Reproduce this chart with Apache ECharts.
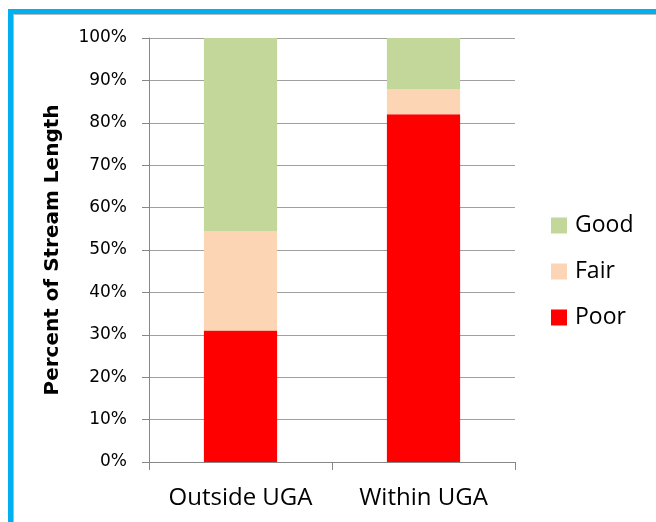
<!DOCTYPE html>
<html>
<head>
<meta charset="utf-8">
<script src="https://cdn.jsdelivr.net/npm/echarts@6/dist/echarts.min.js"></script>
<style>
  html, body { margin: 0; padding: 0; background: #fff; }
  #wrap { position: relative; width: 656px; height: 522px; overflow: hidden; }
  #frame {
    position: absolute; left: 8px; top: 9px; width: 720px; height: 600px;
    border-top: 5px solid #00b0f0; border-left: 5px solid #00b0f0;
    box-shadow: inset 1px 1px 0 #b8b8b8;
  }
  #chart { position: absolute; left: 0; top: 0; width: 656px; height: 522px; }
</style>
</head>
<body>
<div id="wrap">
  <div id="frame"></div>
  <div id="chart"></div>
</div>
<script>
// Share of stream length by condition class (percent)
const categories = ['Outside UGA', 'Within UGA'];
const poor = [31, 82];
const fair = [23.5, 6];
const good = [45.5, 12];
const yTicks = [0, 10, 20, 30, 40, 50, 60, 70, 80, 90, 100];

const chart = echarts.init(document.getElementById('chart'), null, { renderer: 'canvas' });

const catFont = '"Open Sans", "Noto Sans", sans-serif';
const numFont = '"DejaVu Sans", "Liberation Sans", sans-serif';
const barStyle = (color) => ({ color: color });

chart.setOption({
  animation: false,
  backgroundColor: 'transparent',
  grid: { left: 149, top: 38, width: 366, height: 424, containLabel: false },
  legend: {
    orient: 'vertical',
    left: 551,
    top: 214,
    padding: 0,
    itemWidth: 16,
    itemHeight: 16,
    itemGap: 23,
    icon: 'rect',
    data: ['Good', 'Fair', 'Poor'],
    textStyle: { fontFamily: catFont, fontSize: 23, lineHeight: 16, color: '#000', padding: [0, 0, 0, 3] }
  },
  xAxis: {
    type: 'category',
    data: categories,
    axisLine: { lineStyle: { color: '#878787', width: 1 } },
    axisTick: { show: true, interval: 0, length: 8, alignWithLabel: false, lineStyle: { color: '#878787' } },
    axisLabel: { interval: 0, hideOverlap: false, margin: 24, fontFamily: catFont, fontSize: 24, color: '#000' }
  },
  yAxis: {
    type: 'value',
    min: yTicks[0],
    max: yTicks[yTicks.length - 1],
    interval: 10,
    name: 'Percent of Stream Length',
    nameLocation: 'middle',
    nameGap: 86,
    nameRotate: 90,
    nameTextStyle: { fontFamily: numFont, fontWeight: 'bold', fontSize: 20, color: '#000' },
    axisLine: { show: true, lineStyle: { color: '#878787', width: 1 } },
    axisTick: { show: true, length: 7, lineStyle: { color: '#878787' } },
    splitLine: { lineStyle: { color: '#a0a0a0', width: 1 } },
    axisLabel: {
      margin: 22,
      fontFamily: numFont,
      fontSize: 17,
      color: '#000',
      formatter: (v) => v + '%'
    }
  },
  series: [
    { name: 'Poor', type: 'bar', stack: 'total', data: poor, barWidth: '40%', itemStyle: barStyle('#ff0000') },
    { name: 'Fair', type: 'bar', stack: 'total', data: fair, barWidth: '40%', itemStyle: barStyle('#fcd5b4') },
    { name: 'Good', type: 'bar', stack: 'total', data: good, barWidth: '40%', itemStyle: barStyle('#c4d79b') }
  ]
});
</script>
</body>
</html>
